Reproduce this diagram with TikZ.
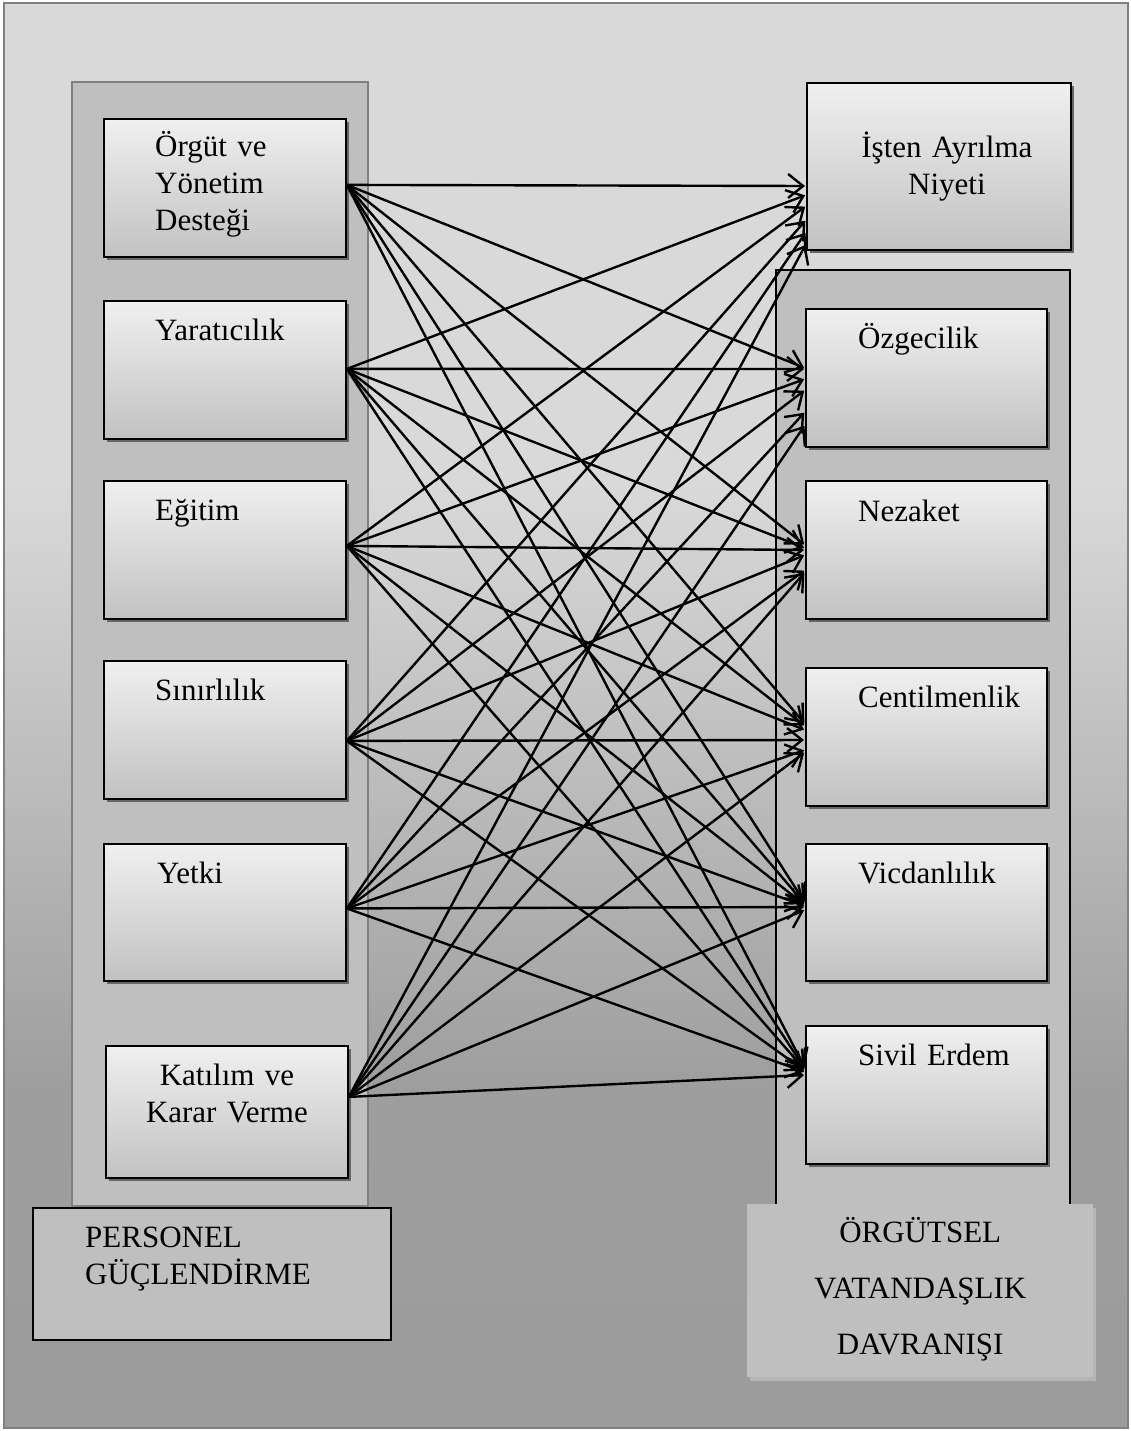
\documentclass[tikz,border=0pt]{standalone}
\usepackage{fontspec}
\setmainfont{Liberation Serif}
\usetikzlibrary{arrows.meta, shadows}

\pgfdeclareverticalshading{bgfade}{100bp}{color(0bp)=(gray!78); color(25bp)=(gray!78); color(37bp)=(gray!76); color(58bp)=(gray!30); color(75bp)=(gray!30); color(100bp)=(gray!30)}

\tikzset{
  inbox/.style={draw, line width=1.8pt, anchor=north west, minimum width=242pt, minimum height=138pt,
    top color=gray!12, bottom color=gray!48,
    drop shadow={shadow xshift=3pt, shadow yshift=-3pt, fill=black!60, opacity=1}},
  txt/.style={font=\fontsize{31}{37}\selectfont, inner sep=0pt, text width=230pt, align=left, anchor=base west},
  ctxt/.style={txt, align=center, anchor=base},
  conn/.style={line width=2.4pt, -{Straight Barb[length=15pt, width=24pt]}, shorten >=1pt}
}

\begin{document}
\begin{tikzpicture}[x=1pt, y=-1pt]
    \useasboundingbox (0,0) rectangle (1131,1431);
    % Background frame
    \draw[gray, line width=2.5pt, shade, shading=bgfade] (4,3) rectangle (1128,1428);
    % Panels
    \draw[gray, line width=2.5pt, fill=gray!50] (72,82) rectangle (368,1206);
    \draw[line width=2.2pt, fill=gray!50] (776,270) rectangle (1070,1210);

    % Left boxes
    \node[inbox] (org) at (103,118) {};
    \node[inbox] (yar) at (103,300) {};
    \node[inbox] (egi) at (103,480) {};
    \node[inbox] (sin) at (103,660) {};
    \node[inbox, minimum height=137pt] (yet) at (103,843) {};
    \node[inbox, minimum height=132pt] (kat) at (105,1045) {};
    \node[txt] (org-t) at ([xshift=52,yshift=-39]org.north west) {Örgüt ve\\Yönetim\\Desteği};
    \node[txt] (yar-t) at ([xshift=52,yshift=-40]yar.north west) {Yaratıcılık};
    \node[txt] (egi-t) at ([xshift=52,yshift=-40]egi.north west) {Eğitim};
    \node[txt] (sin-t) at ([xshift=52,yshift=-40]sin.north west) {Sınırlılık};
    \node[txt] (yet-t) at ([xshift=54,yshift=-40]yet.north west) {Yetki};
    \node[ctxt] (kat-t) at ([yshift=-40]kat.north) {Katılım ve\\Karar Verme};

    % Right boxes
    \node[inbox, minimum width=264pt, minimum height=167pt] (isten) at (806,82) {};
    \node[inbox, minimum width=241pt] (ozg) at (805,308) {};
    \node[inbox, minimum width=241pt] (nez) at (805,480) {};
    \node[inbox, minimum width=241pt] (cen) at (805,667) {};
    \node[inbox, minimum width=241pt, minimum height=137pt] (vic) at (805,843) {};
    \node[inbox, minimum width=241pt] (siv) at (805,1025) {};
    \node[ctxt] (isten-t) at ([xshift=8,yshift=-76]isten.north) {İşten Ayrılma\\Niyeti};
    \node[txt] (ozg-t) at ([xshift=53,yshift=-40]ozg.north west) {Özgecilik};
    \node[txt] (nez-t) at ([xshift=53,yshift=-41]nez.north west) {Nezaket};
    \node[txt] (cen-t) at ([xshift=53,yshift=-40]cen.north west) {Centilmenlik};
    \node[txt] (vic-t) at ([xshift=53,yshift=-40]vic.north west) {Vicdanlılık};
    \node[txt] (siv-t) at ([xshift=53,yshift=-40]siv.north west) {Sivil Erdem};

    % Arrow origins
    \coordinate (org-o) at ([yshift=3]org.east);
    \coordinate (yar-o) at ([yshift=1]yar.east);
    \coordinate (egi-o) at ([yshift=4]egi.east);
    \coordinate (sin-o) at ([yshift=-11]sin.east);
    \coordinate (yet-o) at ([yshift=4]yet.east);
    \coordinate (kat-o) at ([yshift=15]kat.east);

    % Every factor to every outcome
    \foreach \s/\dy in {org/104,yar/113,egi/124,sin/138,yet/150,kat/162}
        \draw[conn] (\s-o) -- ([yshift=-\dy]isten.north west);
    \foreach \s/\dy in {org/60,yar/61,egi/71,sin/82,yet/104,kat/117}
        \draw[conn] (\s-o) -- ([yshift=-\dy]ozg.north west);
    \foreach \s/\dy in {org/65,yar/68,egi/70,sin/75,yet/90,kat/92}
        \draw[conn] (\s-o) -- ([yshift=-\dy]nez.north west);
    \foreach \s/\dy in {org/57,yar/59,egi/63,sin/73,yet/83,kat/85}
        \draw[conn] (\s-o) -- ([yshift=-\dy]cen.north west);
    \foreach \s/\dy in {org/60,yar/61,egi/62,sin/63,yet/64,kat/67}
        \draw[conn] (\s-o) -- ([yshift=-\dy]vic.north west);
    \foreach \s/\dy in {org/43,yar/44,egi/45,sin/46,yet/47,kat/50}
        \draw[conn] (\s-o) -- ([yshift=-\dy]siv.north west);

    % Group labels
    \node[draw, line width=1.8pt, fill=gray!50, anchor=north west, minimum width=358pt, minimum height=132pt] (per) at (32,1207) {};
    \node[txt] (per-t) at ([xshift=53,yshift=-40]per.north west) {PERSONEL\\GÜÇLENDİRME};
    \node[fill=gray!50, anchor=north west, minimum width=346pt, minimum height=173pt,
        drop shadow={shadow xshift=3pt, shadow yshift=-4pt, fill=gray!58, opacity=1}] (ovd) at (747,1204) {};
    \node[ctxt, font=\fontsize{31}{56}\selectfont] (ovd-t) at ([yshift=-38]ovd.north) {ÖRGÜTSEL\\VATANDAŞLIK\\DAVRANIŞI};
\end{tikzpicture}
\end{document}
